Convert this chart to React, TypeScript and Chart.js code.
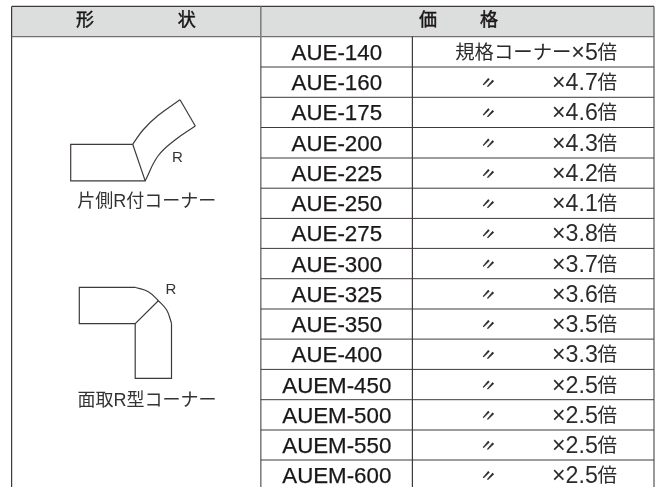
import React, { useEffect, useRef } from "react";
import { Chart, registerables } from "chart.js";

Chart.register(...registerables);

const models = ["AUE-140","AUE-160","AUE-175","AUE-200","AUE-225","AUE-250","AUE-275","AUE-300","AUE-325","AUE-350","AUE-400","AUEM-450","AUEM-500","AUEM-550","AUEM-600"];
const multipliers = ["×5","×4.7","×4.6","×4.3","×4.2","×4.1","×3.8","×3.7","×3.6","×3.5","×3.3","×2.5","×2.5","×2.5","×2.5"];
const timesUnit = "倍";
const firstPriceLabel = "規格コーナー";
const dittoMark = "〃";
const rowEdges = [36.6,67,97.3,127.5,158,188.2,218.4,248.4,278.7,309,339.1,369.4,399.7,430,460,490.2];
const headerTop = 6.4;
const columnEdges = [11.6,260.8,412.4,654];

const headerLabels = [
  { text: "形", x: 85 }, { text: "状", x: 186.7 },
  { text: "価", x: 428 }, { text: "格", x: 489 },
];
const captions = [
  { text: "片側R付コーナー", x: 146.7, y: 202.5 },
  { text: "面取R型コーナー", x: 147, y: 401.5 },
];
const shapeLabels = [
  { text: "R", x: 177.3, y: 158.3 },
  { text: "R", x: 171, y: 289.5 },
];

const shapeOneOutline = [{x:132.7,y:144.3},{x:70.7,y:144.3},{x:70.7,y:180.8},{x:145.2,y:180.8},{x:132.7,y:144.3}];
const shapeOneOuterCurve = [{x:132.7,y:144.3},{x:143,y:130},{x:158,y:115.5},{x:180,y:99.7}];
const shapeOneEnd = [{x:180,y:99.7},{x:195.3,y:126}];
const shapeOneInnerCurve = [{x:195.3,y:126},{x:175,y:140},{x:158,y:156},{x:145.2,y:180.8}];
const shapeTwoOutline = [{x:135,y:287.3},{x:79.3,y:287.3},{x:79.3,y:323.6},{x:135.2,y:323.6},{x:158.3,y:300.7}];
const shapeTwoLeg = [{x:171.5,y:323.3},{x:171.5,y:378.3},{x:135.2,y:378.3},{x:135.2,y:323.6}];
const shapeTwoCurve = [{x:135,y:287.3},{x:148.3,y:291.7},{x:158.3,y:300.7},{x:166.7,y:310},{x:171.5,y:323.3}];

const FONT = '"Liberation Sans", "Noto Sans CJK JP", sans-serif';
const TEXT = "#1a1718";
const PRICE = "#2b2b2b";
const LINE = "#3e3a39";
const HEADER_FILL = "#dcdddd";

const seg = (x1: number, y1: number, x2: number, y2: number) => [{ x: x1, y: y1 }, { x: x2, y: y2 }];

const tablePlugin = {
  id: "tablePlugin",
  beforeDatasetsDraw(chart: any) {
    const { ctx, scales: { x, y } } = chart;
    const px = (v: number) => x.getPixelForValue(v);
    const py = (v: number) => y.getPixelForValue(v);
    ctx.save();
    ctx.fillStyle = HEADER_FILL;
    ctx.fillRect(px(columnEdges[0]), py(headerTop), px(columnEdges[3]) - px(columnEdges[0]), py(rowEdges[0]) - py(headerTop));
    ctx.restore();
  },
  afterDatasetsDraw(chart: any) {
    const { ctx, scales: { x, y } } = chart;
    const px = (v: number) => x.getPixelForValue(v);
    const py = (v: number) => y.getPixelForValue(v);
    const put = (t: string, xv: number, yv: number, size: number, align: CanvasTextAlign = "center", color = TEXT, stroke = 0, baseline: CanvasTextBaseline = "middle") => {
      ctx.font = `${size}px ${FONT}`;
      ctx.textAlign = align;
      ctx.textBaseline = baseline;
      ctx.fillStyle = color;
      ctx.fillText(t, px(xv), py(yv));
      if (stroke > 0) {
        ctx.strokeStyle = color;
        ctx.lineWidth = stroke;
        ctx.strokeText(t, px(xv), py(yv));
      }
    };
    ctx.save();
    const headerMid = (headerTop + rowEdges[0]) / 2;
    headerLabels.forEach((h) => put(h.text, h.x, headerMid - 0.5, 18, "center", TEXT, 0.45));
    captions.forEach((c) => put(c.text, c.x, c.y, 18, "center", "#333"));
    shapeLabels.forEach((c) => put(c.text, c.x, c.y, 15, "center", "#333"));
    models.forEach((m, i) => {
      const mid = (rowEdges[i] + rowEdges[i + 1]) / 2;
      const base = mid + 8;
      put(m, 336.8, base, 22.3, "center", TEXT, 0.25, "alphabetic");
      put(timesUnit, 617, base - 1, 19.5, "right", PRICE, 0, "alphabetic");
      put(multipliers[i], 597.8, base, 23.2, "right", PRICE, 0, "alphabetic");
      if (i === 0) {
        put(firstPriceLabel, 571.5, base - 0.5, 19.4, "right", PRICE, 0, "alphabetic");
      } else {
        ctx.save();
        ctx.translate(px(487.8), py(mid + 2));
        ctx.rotate((22 * Math.PI) / 180);
        ctx.font = `16px ${FONT}`;
        ctx.textAlign = "center";
        ctx.textBaseline = "middle";
        ctx.fillStyle = PRICE;
        ctx.strokeStyle = PRICE;
        ctx.lineWidth = 0.4;
        ctx.fillText(dittoMark, 0, 0);
        ctx.strokeText(dittoMark, 0, 0);
        ctx.restore();
      }
    });
    ctx.restore();
  },
};

export default function App() {
  const ref = useRef<HTMLCanvasElement>(null);
  useEffect(() => {
    const rowRules: any[] = [];
    rowEdges.slice(1, -1).forEach((e) => {
      rowRules.push(...seg(columnEdges[1], e, columnEdges[3], e), { x: null, y: null });
    });
    const line = (data: any[], extra: any = {}) => ({
      type: "scatter" as const,
      data,
      showLine: true,
      pointRadius: 0,
      borderColor: LINE,
      borderWidth: 1.2,
      tension: 0,
      spanGaps: false,
      ...extra,
    });
    const chart = new Chart(ref.current!, {
      type: "scatter",
      data: {
        datasets: [
          line(rowRules, { borderWidth: 1 }),
          line(seg(columnEdges[2], rowEdges[0], columnEdges[2], rowEdges[15]), { borderWidth: 1.2 }),
          line(seg(columnEdges[1], headerTop, columnEdges[1], rowEdges[15]), { borderColor: "#808080", borderWidth: 1.6 }),
          line(seg(columnEdges[0], rowEdges[0], columnEdges[3], rowEdges[0]), { borderColor: "#727171", borderWidth: 1.4 }),
          line(seg(columnEdges[0], headerTop, columnEdges[3], headerTop), { borderWidth: 1.2 }),
          line(seg(columnEdges[0], headerTop, columnEdges[0], rowEdges[15]), { borderWidth: 1.2 }),
          line(seg(columnEdges[3], headerTop, columnEdges[3], rowEdges[15]), { borderColor: "#595757", borderWidth: 1.2 }),
          line(shapeOneOutline),
          line(shapeOneOuterCurve, { tension: 0.4 }),
          line(shapeOneEnd),
          line(shapeOneInnerCurve, { tension: 0.4 }),
          line(shapeTwoOutline),
          line(shapeTwoLeg),
          line(shapeTwoCurve, { tension: 0.4 }),
        ],
      },
      options: {
        animation: false,
        responsive: false,
        layout: { padding: 0 },
        plugins: { legend: { display: false }, tooltip: { enabled: false }, title: { display: false } },
        scales: {
          x: { type: "linear", display: false, min: 0, max: 660 },
          y: { type: "linear", display: false, min: 0, max: 487, reverse: true },
        },
      },
      plugins: [tablePlugin],
    } as any);
    return () => chart.destroy();
  }, []);
  return (
    <div style={{ position: "absolute", left: 0, top: 0, width: 660, height: 487, background: "#fff" }}>
      <canvas ref={ref} width={660} height={487} style={{ display: "block" }} />
    </div>
  );
}
